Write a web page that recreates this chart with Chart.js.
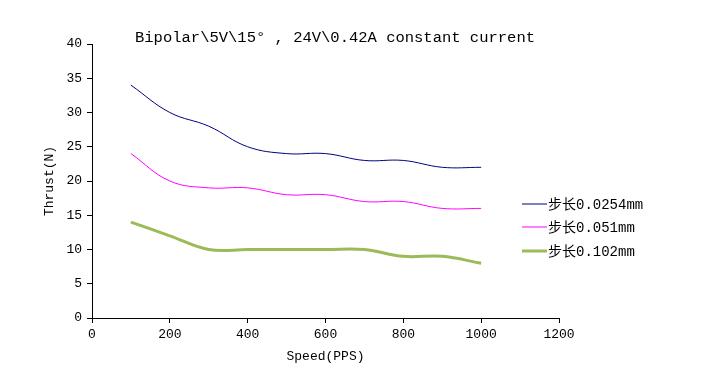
<!DOCTYPE html>
<html><head><meta charset="utf-8">
<script src="https://cdn.jsdelivr.net/npm/chart.js@4/dist/chart.umd.min.js"></script>
<style>html,body{margin:0;padding:0;background:#fff}#wrap{width:703px;height:383px}</style>
</head><body><div id="wrap"><canvas id="c" width="703" height="383"></canvas></div>
<script>
const speeds = [100, 200, 300, 400, 500, 600, 700, 800, 900, 1000];
const step0254 = [34, 30, 28, 25, 24, 24, 23, 23, 22, 22];
const step051 = [24, 20, 19, 19, 18, 18, 17, 17, 16, 16];
const step102 = [14, 12, 10, 10, 10, 10, 10, 9, 9, 8];
const seriesNames = ['步长0.0254mm', '步长0.051mm', '步长0.102mm'];
const titleText = 'Bipolar\\5V\\15° , 24V\\0.42A constant current';
const xTitle = 'Speed(PPS)';
const yTitle = 'Thrust(N)';

const FONT = '"Liberation Mono", "Noto Sans CJK SC", monospace';
const pts = arr => speeds.map((s, i) => ({x: s, y: arr[i]}));

const overlay = {
  id: 'overlay',
  afterDraw(chart) {
    const ctx = chart.ctx;
    ctx.save();
    ctx.fillStyle = '#000';
    ctx.font = '15.5px ' + FONT;
    ctx.textAlign = 'center';
    ctx.textBaseline = 'middle';
    ctx.fillText(titleText, 335, 38);
    ctx.font = '14px ' + FONT;
    ctx.textAlign = 'left';
    const ys = [204, 227, 251];
    chart.data.datasets.forEach((d, i) => {
      ctx.strokeStyle = d.borderColor;
      ctx.lineWidth = d.borderWidth;
      ctx.beginPath();
      ctx.moveTo(522, ys[i]);
      ctx.lineTo(547, ys[i]);
      ctx.stroke();
      ctx.fillText(d.label, 548, ys[i] + 1);
    });
    ctx.restore();
  }
};

new Chart(document.getElementById('c'), {
  type: 'line',
  data: {
    datasets: [
      {label: seriesNames[0], data: pts(step0254), borderColor: '#000080', borderWidth: 1},
      {label: seriesNames[1], data: pts(step051), borderColor: '#FF00FF', borderWidth: 1},
      {label: seriesNames[2], data: pts(step102), borderColor: '#9BBB59', borderWidth: 3}
    ]
  },
  options: {
    responsive: false,
    animation: false,
    devicePixelRatio: 1,
    layout: {padding: {left: 42, top: 44, right: 144, bottom: 15}},
    elements: {line: {tension: 0.4, fill: false}, point: {radius: 0}},
    plugins: {legend: {display: false}, title: {display: false}, tooltip: {enabled: false}},
    scales: {
      x: {
        type: 'linear', min: 0, max: 1200,
        ticks: {stepSize: 200, color: '#000', font: {family: FONT, size: 13}, padding: 4, maxRotation: 0,
                callback: v => String(v)},
        grid: {drawOnChartArea: false, drawTicks: true, tickLength: 5, color: '#000'},
        border: {display: true, color: '#000', width: 1},
        title: {display: true, text: xTitle, color: '#000', font: {family: FONT, size: 13}, padding: {top: 4, bottom: 4}},
        afterFit(s) { s.height = 50; }
      },
      y: {
        min: 0, max: 40,
        ticks: {stepSize: 5, color: '#000', font: {family: FONT, size: 13}, padding: 5},
        grid: {drawOnChartArea: false, drawTicks: true, tickLength: 5, color: '#000'},
        border: {display: true, color: '#000', width: 1},
        title: {display: true, text: yTitle, color: '#000', font: {family: FONT, size: 13}, padding: {top: 0, bottom: 0}},
        afterFit(s) { s.width = 50; }
      }
    }
  },
  plugins: [overlay]
});
</script></body></html>
